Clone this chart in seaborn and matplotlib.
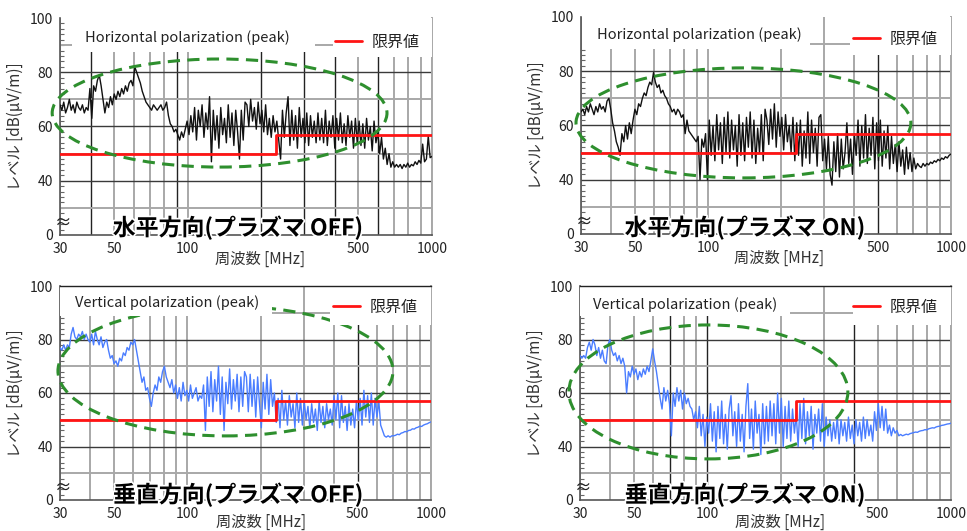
import numpy as np
import matplotlib
matplotlib.use("Agg")
import matplotlib.pyplot as plt
import matplotlib.patheffects as pe
from matplotlib.patches import Ellipse, Rectangle
from matplotlib.lines import Line2D
from matplotlib.ticker import FixedLocator, NullLocator, MultipleLocator
import seaborn as sns

sns.set_theme(style="white")
plt.rcParams["font.family"] = ["Noto Sans CJK JP", "DejaVu Sans"]

# Peak levels in dB(uV/m), sampled at 200 log-spaced points from 30 to 1000 MHz
h_off = [
    68, 66, 69, 65, 67, 70, 66, 68, 65, 69, 67, 66, 68, 65, 67, 66, 74, 63, 75, 73,
    77, 79, 75, 70, 65, 69, 67, 71, 68, 72, 70, 73, 71, 74, 72, 75, 73, 76, 77, 75,
    82, 80, 78, 76, 73, 71, 69, 68, 67, 66, 68, 67, 66, 67, 68, 66, 67, 69, 64, 61,
    60, 58, 59, 57, 55, 58, 56, 59, 62, 57, 64, 58, 67, 55, 66, 60, 68, 56, 65, 59,
    71, 47, 66, 55, 64, 52, 67, 57, 63, 54, 68, 56, 65, 53, 66, 58, 48, 66, 55, 69,
    68, 60, 70, 62, 67, 59, 69, 61, 66, 58, 68, 57, 63, 56, 64, 58, 62, 55, 48, 66,
    56, 65, 71, 53, 66, 55, 64, 52, 67, 56, 63, 54, 65, 53, 64, 56, 62, 54, 65, 55,
    63, 54, 66, 53, 62, 56, 64, 52, 63, 55, 65, 54, 61, 53, 64, 56, 62, 52, 63, 54,
    62, 53, 61, 52, 63, 55, 60, 51, 62, 54, 58, 50, 56, 48, 52, 46, 50, 45, 47, 45,
    46, 45, 46, 44.5, 46, 45, 46.5, 45, 46, 45.5, 47, 46, 47.5, 46.5, 53.5, 47, 48, 56.5, 48.5, 49,
]
h_on = [
    65, 66, 64, 67, 65, 68, 66, 64, 67, 65, 68, 66, 67, 65, 69, 70, 66, 61, 58, 54,
    52, 49, 57, 54, 60, 55, 61, 57, 62, 66, 64, 68, 67, 70, 72, 71, 74, 76, 75, 79.5,
    76, 74, 75, 72, 73, 71, 70, 68, 67, 65, 66, 64, 66, 65, 63, 64, 57, 62, 58, 57,
    56, 55, 54, 56, 40, 55, 52, 57, 40, 62, 49, 60, 47, 64, 51, 61, 46, 63, 50, 65,
    48, 62, 51, 60, 45, 64, 49, 61, 47, 63, 52, 65, 48, 62, 46, 59, 50, 64, 47, 66,
    62, 53, 66, 55, 68, 52, 65, 56, 63, 51, 64, 54, 60, 50, 63, 47, 61, 49, 62, 45,
    58, 48, 65, 46, 62, 50, 59, 45, 63, 64, 47, 55, 44, 56, 42, 38, 54, 43, 57, 41,
    55, 44, 50, 61, 46, 55, 42, 57, 49, 62, 45, 60, 48, 64, 46, 59, 49, 63, 44, 61,
    47, 62, 45, 58, 48, 60, 44, 56, 46, 53, 43, 54, 45, 51, 42, 52, 44, 50, 43, 48,
    44, 46, 45, 44.5, 46, 45, 46, 45.5, 46.5, 46, 47, 46.5, 47.5, 47, 48, 47.5, 48.5, 48, 49, 49.5,
]
v_off = [
    77, 76, 78, 76, 78, 77, 82, 84.5, 81, 80, 82, 81, 83, 80, 82, 80, 79, 82, 78, 83,
    80, 78, 81, 77, 79, 80, 76, 73, 74, 71, 72, 70, 73, 72, 75, 74, 77, 76, 79, 78,
    80, 76, 72, 68, 64, 66, 61, 62, 58, 55, 60, 63, 61, 66, 64, 68, 70, 66, 64, 62,
    65, 60, 63, 58, 62, 57, 64, 59, 61, 57, 63, 58, 60, 62, 57, 59, 58, 63, 46, 66,
    55, 68, 53, 65, 57, 70, 52, 66, 46, 64, 56, 69, 54, 65, 57, 67, 53, 66, 55, 68,
    66, 53, 67, 55, 65, 51, 66, 56, 47, 64, 54, 67, 52, 65, 55, 60, 49, 58, 47, 61,
    50, 57, 48, 59, 51, 56, 47, 60, 49, 58, 48, 57, 50, 55, 47, 56, 49, 54, 46, 57,
    49, 55, 47, 56, 50, 54, 48, 59, 50, 60, 47, 59, 49, 55, 46, 56, 48, 54, 47, 57,
    50, 58, 48, 61, 51, 59, 49, 60, 48, 58, 51, 57, 48, 46, 44, 43.5, 44, 43.5, 44, 44,
    44.2, 44.6, 44.4, 45, 45.2, 45.6, 45.5, 46, 46.1, 46.6, 46.5, 47, 47.2, 47.6, 47.5, 48, 48.3, 48.5, 48.9, 49.2,
]
v_on = [
    74, 73, 74, 73, 77, 79, 76, 80, 78, 74, 77, 73, 76, 72, 71, 78, 80, 76, 74, 75,
    72, 74, 71, 73, 70, 60, 68, 66, 70, 67, 69, 65, 68, 66, 69, 67, 70, 68, 72, 76.5,
    72, 68, 63, 58, 54, 62, 57, 61, 56, 44, 60, 55, 62, 57, 61, 54, 60, 56, 58, 55,
    54, 50, 53, 47, 55, 44, 52, 40, 51, 45, 56, 42, 53, 38, 55, 43, 57, 41, 52, 39,
    54, 59, 44, 53, 40, 56, 42, 52, 38, 55, 63.5, 43, 54, 39, 57, 45, 52, 37, 56, 41,
    55, 42, 57, 44, 56, 41, 60, 45, 58, 40, 55, 43, 57, 42, 54, 45, 52, 40, 56, 43,
    58, 41, 53, 44, 55, 39, 52, 45, 54, 42, 56, 40, 51, 44, 50, 42, 49, 43, 51, 41,
    50, 44, 49, 42, 51, 43, 48, 41, 50, 44, 49, 42, 51, 43, 50, 44, 48, 42, 53, 46,
    56, 47, 55, 46, 54, 45, 48, 44, 47, 45, 46, 44, 44.5, 44, 44.3, 44.6, 44.4, 44.8, 45, 45.2,
    45.4, 45.3, 45.7, 45.9, 46, 46.3, 46.2, 46.6, 46.8, 47, 46.9, 47.3, 47.5, 47.6, 47.9, 48, 48.2, 48.4, 48.5, 48.7,
]

# Radiated-emission limit (step at 230 MHz)
limit_freq = [30, 230, 230, 1000]
limit_level = [50, 50, 57, 57]

x_ticks = [30, 50, 100, 500, 1000]
x_tick_labels = ["30", "50", "100", "500", "1000"]
# the axis is broken below 30 dB: the bottom edge stands for 0
y_ticks = [20, 40, 60, 80, 100]
y_tick_labels = ["0", "40", "60", "80", "100"]

titles = ["水平方向(プラズマ OFF)", "水平方向(プラズマ ON)",
          "垂直方向(プラズマ OFF)", "垂直方向(プラズマ ON)"]
pol_labels = ["Horizontal polarization (peak)", "Horizontal polarization (peak)",
              "Vertical polarization (peak)", "Vertical polarization (peak)"]
limit_label = "限界値"
x_label = "周波数 [MHz]"
y_label = "レベル [dB(μV/m)]"

traces = [h_off, h_on, v_off, v_on]
trace_colors = ["#111111", "#111111", "#4a7dff", "#4a7dff"]

W, H = 967, 531
fig = plt.figure(figsize=(W / 100, H / 100), dpi=100)
fig.patch.set_facecolor("white")


def px_rect(x0, x1, ytop, ybot):
    return [x0 / W, 1 - ybot / H, (x1 - x0) / W, (ybot - ytop) / H]


layout = [
    dict(rect=px_rect(60, 432, 18, 235), title_xy=(0.478, 0.032),
         ellipse=(0.429, 0.562, 0.90, 0.498), pol_box=(0.032, 0.843, 0.653),
         pol_xy=(0.067, 0.908), leg_box=(0.734, 0.82), leg_xy=(0.739, 0.889),
         dark_v=[40, 90, 200, 300, 400, 600], top=False, xlab=(0.538, -0.075)),
    dict(rect=px_rect(581, 951, 17, 234), title_xy=(0.443, 0.028),
         ellipse=(0.439, 0.512, 0.905, 0.507), pol_box=(0.003, 0.853, 0.616),
         pol_xy=(0.043, 0.917), leg_box=(0.727, 0.825), leg_xy=(0.735, 0.899),
         dark_v=[500], top=False, xlab=(0.535, -0.075)),
    dict(rect=px_rect(60, 431, 286, 500), title_xy=(0.48, 0.023),
         ellipse=(0.446, 0.603, 0.903, 0.607), pol_box=(0.0, 0.86, 0.571),
         pol_xy=(0.040, 0.92), leg_box=(0.728, 0.818), leg_xy=(0.736, 0.902),
         dark_v=[500], top=True, xlab=(0.542, -0.064)),
    dict(rect=px_rect(580, 951, 286, 500), title_xy=(0.445, 0.023),
         ellipse=(0.346, 0.505, 0.752, 0.626), pol_box=(0.0, 0.86, 0.566),
         pol_xy=(0.035, 0.911), leg_box=(0.736, 0.818), leg_xy=(0.736, 0.902),
         dark_v=[70, 100, 400], top=True, xlab=(0.54, -0.064)),
]

freq = np.geomspace(30, 1000, 200)
v_grid = list(range(30, 100, 10)) + list(range(100, 1001, 100))
h_grid = list(range(30, 100, 10))

for i, cfg in enumerate(layout):
    ax = fig.add_axes(cfg["rect"])
    ax.set_facecolor("white")
    ax.set_xscale("log")
    ax.set_xlim(30, 1000)
    ax.set_ylim(20, 100)

    # grid
    for f in v_grid:
        dark = f in cfg["dark_v"]
        ax.axvline(f, color="#222222" if dark else "#a8a8a8",
                   lw=1.0 if dark else 1.4, zorder=1)
    for lv in h_grid:
        dark = lv in (40, 60, 80)
        ax.axhline(lv, color="#3a3a3a" if dark else "#a8a8a8",
                   lw=1.0 if dark else 1.4, zorder=1)

    # measured trace and limit
    sns.lineplot(x=freq, y=traces[i], estimator=None, sort=False, ax=ax,
                 color=trace_colors[i], lw=1.0, zorder=3)
    sns.lineplot(x=limit_freq, y=limit_level, estimator=None, sort=False, ax=ax,
                 color="#ff1414", lw=2.0, zorder=4)

    # highlighted region
    cx, cy, ew, eh = cfg["ellipse"]
    ax.add_patch(Ellipse((cx, cy), ew, eh, transform=ax.transAxes, fill=False,
                         edgecolor="#2e8f2e", lw=2.2, linestyle=(0, (4, 2.4)),
                         clip_on=False, zorder=5))

    # label boxes at the top
    bx, by, bw = cfg["pol_box"]
    ax.add_patch(Rectangle((bx, by), bw, 1 - by, transform=ax.transAxes,
                           facecolor="white", edgecolor="none", zorder=6))
    lx, ly = cfg["leg_box"]
    ax.add_patch(Rectangle((lx, ly), 1 - lx, 1 - ly, transform=ax.transAxes,
                           facecolor="white", edgecolor="none", zorder=6))
    ax.text(*cfg["pol_xy"], pol_labels[i], transform=ax.transAxes, ha="left",
            va="center", fontsize=10.5, color="#222222", zorder=7)
    handle = Line2D([], [], color="#ff1414", lw=2.0)
    leg = ax.legend([handle], [limit_label], loc="center left",
                    bbox_to_anchor=cfg["leg_xy"], bbox_transform=ax.transAxes,
                    frameon=False, borderaxespad=0, borderpad=0,
                    handlelength=1.7, handletextpad=0.6, fontsize=11.5)
    leg.set_zorder(8)
    for t in leg.get_texts():
        t.set_color("#222222")

    # panel title
    ax.text(*cfg["title_xy"], titles[i], transform=ax.transAxes, ha="center",
            va="center", fontsize=16.5, fontweight="bold", color="black", zorder=9,
            path_effects=[pe.withStroke(linewidth=2.5, foreground="white")])
    # axis break mark
    ax.text(0.008, 0.05, "≈", transform=ax.transAxes, ha="center", va="center",
            fontsize=12, color="#222222", zorder=9)

    # ticks
    ax.xaxis.set_major_locator(FixedLocator(x_ticks))
    ax.set_xticklabels(x_tick_labels)
    ax.xaxis.set_minor_locator(NullLocator())
    ax.yaxis.set_major_locator(FixedLocator(y_ticks))
    ax.set_yticklabels(y_tick_labels)
    ax.yaxis.set_minor_locator(MultipleLocator(2))
    ax.tick_params(axis="both", which="major", length=0, labelsize=10,
                   labelcolor="#222222", pad=5)
    ax.tick_params(axis="y", which="minor", direction="in", length=3,
                   width=0.8, color="#666666", left=True)

    ax.set_xlabel(x_label, fontsize=11, color="#333333")
    ax.xaxis.set_label_coords(*cfg["xlab"])
    ax.set_ylabel(y_label, fontsize=11, color="#333333")
    ax.yaxis.set_label_coords(-0.097, 0.5)

    for side in ("left", "bottom"):
        ax.spines[side].set_color("#555555")
        ax.spines[side].set_linewidth(1.2)
    ax.spines["right"].set_color("#a8a8a8")
    ax.spines["right"].set_linewidth(1.4)
    ax.spines["top"].set_visible(cfg["top"])
    ax.spines["top"].set_color("#222222")
    ax.spines["top"].set_linewidth(1.0)
    ax.spines["top"].set_zorder(7)

fig.savefig("out.png", dpi=100, facecolor="white")
